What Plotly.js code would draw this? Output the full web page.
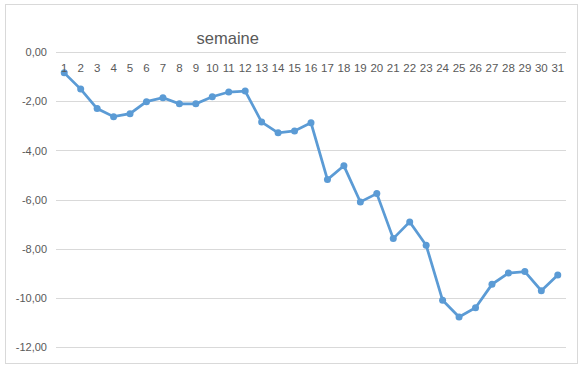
<!DOCTYPE html>
<html>
<head>
<meta charset="utf-8">
<script src="https://cdn.plot.ly/plotly-3.0.1.min.js"></script>
<style>
html,body{margin:0;padding:0;background:#fff;}
#wrap{position:relative;width:578px;height:365px;}
#chart{position:absolute;left:0;top:0;width:578px;height:365px;}
#frame{position:absolute;left:5px;top:4px;width:571px;height:358px;border:1px solid #d9d9d9;pointer-events:none;}
</style>
</head>
<body>
<div id="wrap"><div id="chart"></div><div id="frame"></div></div>
<script>
const weeks = ["1","2","3","4","5","6","7","8","9","10","11","12","13","14","15","16","17","18","19","20","21","22","23","24","25","26","27","28","29","30","31"];
const values = [-0.83,-1.49,-2.28,-2.61,-2.49,-2.00,-1.84,-2.09,-2.09,-1.80,-1.61,-1.57,-2.83,-3.27,-3.19,-2.86,-5.17,-4.61,-6.08,-5.74,-7.57,-6.89,-7.84,-10.08,-10.76,-10.38,-9.43,-8.97,-8.91,-9.69,-9.05];
const yTickVals = [0,-2,-4,-6,-8,-10,-12];
const yTickText = ["0,00","-2,00","-4,00","-6,00","-8,00","-10,00","-12,00"];

const trace = {
  x: weeks, y: values, type: 'scatter', mode: 'lines+markers',
  line: {color: '#5b9bd5', width: 2.75},
  marker: {color: '#5b9bd5', size: 7},
  hoverinfo: 'skip'
};
const layout = {
  width: 578, height: 365,
  margin: {l: 56, r: 12, t: 50, b: 15},
  paper_bgcolor: '#ffffff', plot_bgcolor: '#ffffff',
  font: {family: 'Liberation Sans, Arial, sans-serif', size: 11, color: '#595959'},
  showlegend: false,
  title: {text: 'semaine', x: 0.394, xref: 'container', xanchor: 'center', y: 0.895, yref: 'container', yanchor: 'middle',
          font: {family: 'Liberation Sans, Arial, sans-serif', size: 16.5, color: '#595959'}},
  xaxis: {type: 'category', side: 'bottom', anchor: 'free', position: 0.968, showgrid: false, zeroline: false,
          showline: false, ticks: '', ticklen: 0, tickfont: {size: 11.5, color: '#595959'},
          range: [-0.5, 30.5], fixedrange: true},
  yaxis: {range: [-12.1, 0.1], tickvals: yTickVals, ticktext: yTickText, showgrid: true, gridcolor: '#d9d9d9', gridwidth: 1,
          zeroline: false, showline: false, ticks: '', ticklen: 0, ticklabelstandoff: 8, tickfont: {size: 11, color: '#595959'}, fixedrange: true}
};
Plotly.newPlot('chart', [trace], layout, {displayModeBar: false, staticPlot: true});
</script>
</body>
</html>
